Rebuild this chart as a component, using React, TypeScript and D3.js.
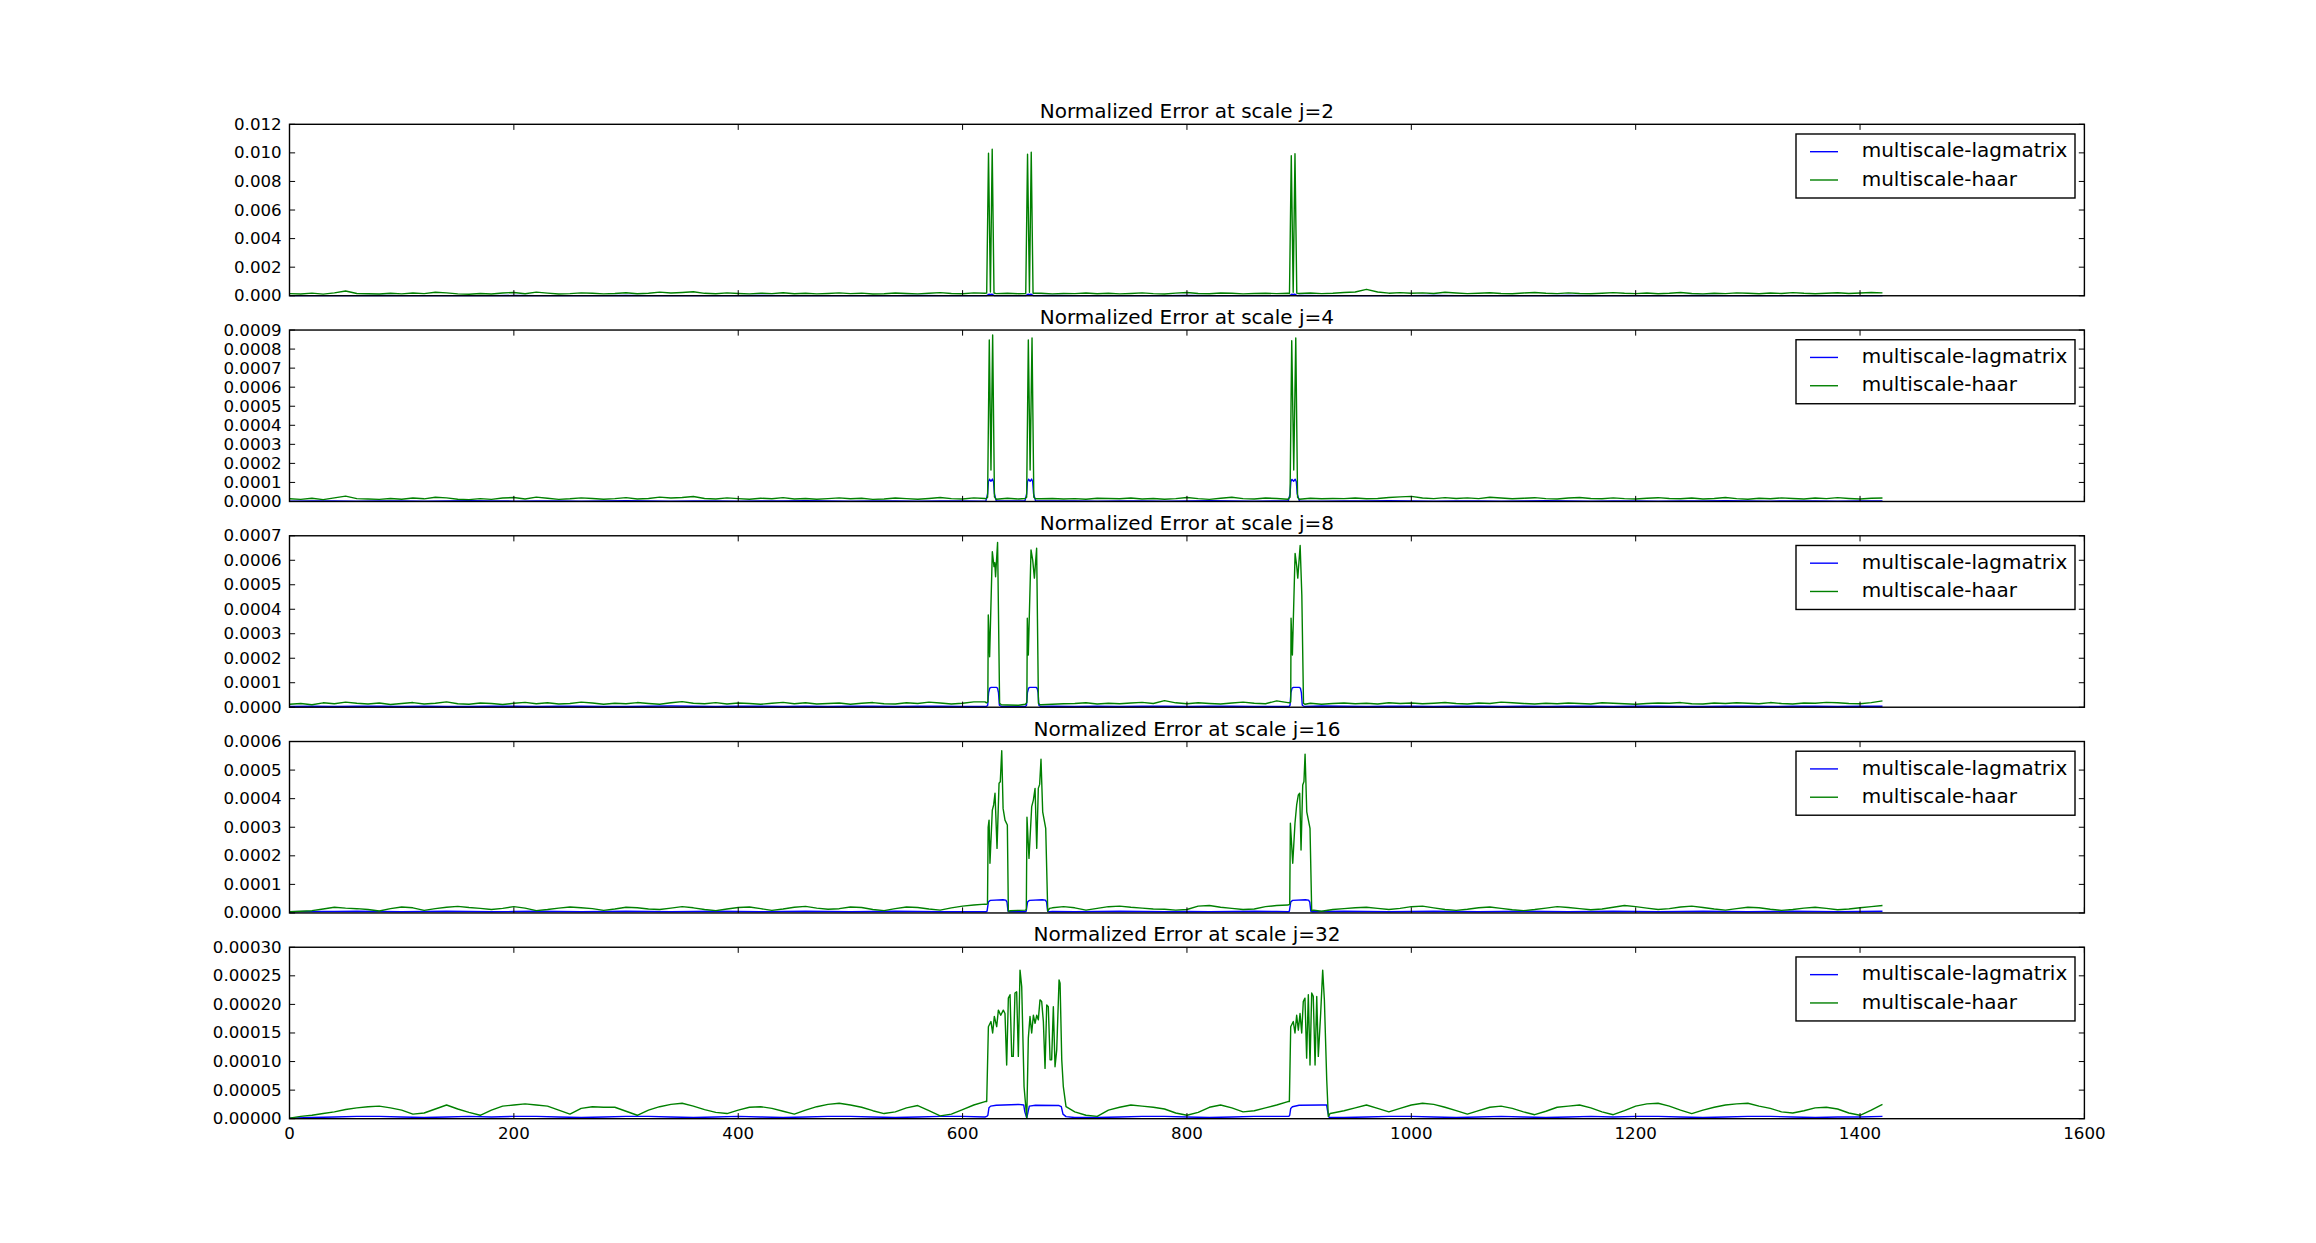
import { useEffect, useRef } from 'react';
import * as d3 from 'd3';

// figure geometry (matplotlib-like subplot layout, 5 rows sharing x)
const W = 2316;
const H = 1243;

// values are stored in units of 1e-6
const UNIT = 1e-6;
const HAAR_STEP = 10; // base samples of haar error every 10 samples
const LAG_STEP = 20; // base samples of lagmatrix error every 20 samples

const xTicks = [0, 200, 400, 600, 800, 1000, 1200, 1400, 1600];
const scaleLabels = ['j=2', 'j=4', 'j=8', 'j=16', 'j=32'];
const yMaxes = [0.012, 0.0009, 0.0007, 0.0006, 0.0003];
const yTickSteps = [0.002, 0.0001, 0.0001, 0.0001, 0.00005];
const yTickDigits = [3, 4, 4, 4, 5];
const seriesNames = ['multiscale-lagmatrix', 'multiscale-haar'];
const seriesColors = ['#0000ff', '#008000'];

// ---- multiscale-haar, baseline (x = 0, 10, ..., 1420)
const haarJ2 = [
  150, 120, 180, 110, 200, 330, 160, 140, 120, 170,
  130, 190, 150, 240, 200, 130, 110, 160, 120, 190,
  230, 140, 250, 180, 120, 150, 200, 170, 130, 160,
  210, 140, 170, 250, 190, 230, 280, 170, 140, 200,
  160, 130, 180, 150, 210, 140, 170, 130, 160, 200,
  150, 180, 120, 140, 190, 160, 130, 170, 220, 160,
  140, 200, 170, 150, 180, 140, 170, 170, 130, 160,
  150, 190, 140, 170, 130, 160, 200, 150, 120, 180,
  230, 160, 140, 190, 170, 130, 160, 180, 150, 170,
  160, 190, 150, 170, 230, 260, 450, 260, 180, 220,
  170, 200, 160, 240, 190, 150, 180, 210, 160, 140,
  190, 230, 170, 150, 200, 160, 140, 180, 220, 170,
  150, 190, 140, 170, 230, 160, 130, 180, 150, 200,
  170, 140, 190, 160, 220, 170, 140, 180, 210, 160,
  190, 230, 200,
];
const haarJ4 = [
  14, 11, 17, 10, 19, 28, 15, 13, 11, 16,
  12, 18, 14, 22, 19, 12, 10, 15, 11, 18,
  21, 13, 23, 17, 11, 14, 19, 16, 12, 15,
  20, 13, 16, 23, 18, 21, 26, 16, 13, 19,
  15, 12, 17, 14, 20, 13, 16, 12, 15, 19,
  14, 17, 11, 13, 18, 15, 12, 16, 21, 15,
  13, 19, 16, 14, 17, 13, 15, 14, 16, 13,
  15, 12, 17, 16, 14, 18, 13, 16, 12, 15,
  21, 15, 11, 17, 22, 15, 13, 18, 16, 12,
  15, 17, 14, 16, 15, 18, 14, 16, 21, 24,
  27, 18, 15, 20, 16, 19, 15, 22, 18, 14,
  17, 20, 15, 13, 18, 21, 16, 14, 19, 15,
  13, 17, 20, 16, 14, 18, 13, 16, 21, 15,
  12, 17, 14, 19, 16, 13, 18, 15, 20, 16,
  13, 17, 18,
];
const haarJ8 = [
  12, 15, 10, 18, 14, 21, 16, 13, 17, 11,
  15, 19, 13, 16, 22, 14, 12, 17, 15, 11,
  16, 20, 14, 18, 13, 15, 21, 17, 12, 16,
  14, 19, 15, 12, 18, 23, 16, 14, 19, 13,
  17, 15, 12, 16, 20, 14, 18, 13, 15, 17,
  12, 16, 19, 14, 13, 18, 15, 21, 17, 13,
  16, 22, 22, 10, 9, 8, 11, 10, 12, 14,
  15, 18, 13, 16, 14, 17, 20, 15, 27, 18,
  14, 18, 15, 13, 17, 21, 16, 14, 26, 19,
  13, 16, 12, 15, 17, 14, 16, 13, 18, 15,
  17, 14, 16, 19, 15, 13, 17, 15, 21, 18,
  15, 13, 16, 14, 17, 15, 13, 18, 16, 14,
  12, 15, 17, 16, 19, 14, 13, 17, 15, 18,
  16, 14, 19, 15, 13, 17, 16, 20, 18, 15,
  14, 19, 26,
];
const haarJ16 = [
  4, 6, 8, 14, 20, 17, 15, 12, 7, 15,
  21, 18, 9, 15, 20, 23, 19, 16, 12, 16,
  22, 17, 8, 12, 17, 21, 18, 15, 9, 14,
  20, 18, 14, 12, 17, 22, 18, 12, 8, 14,
  19, 21, 15, 9, 14, 20, 23, 17, 13, 15,
  21, 19, 12, 8, 15, 21, 19, 14, 10, 18,
  24, 28, 31, 20, 8, 9, 18, 16, 18, 22,
  18, 10, 16, 22, 24, 20, 17, 14, 13, 10,
  12, 24, 26, 20, 16, 12, 14, 22, 26, 28,
  20, 10, 6, 12, 15, 18, 20, 16, 12, 16,
  22, 24, 18, 12, 9, 13, 18, 21, 16, 11,
  8, 12, 17, 22, 19, 15, 11, 14, 20, 26,
  22, 17, 12, 15, 21, 24, 19, 14, 10, 15,
  20, 18, 13, 9, 12, 17, 20, 16, 11, 14,
  18, 22, 26,
];
const haarJ32 = [
  1, 4, 6, 9, 12, 16, 19, 21, 22, 19,
  15, 8, 10, 17, 24, 17, 11, 6, 15, 22,
  24, 26, 24, 22, 15, 8, 18, 21, 20, 20,
  13, 6, 15, 21, 25, 27, 22, 16, 11, 9,
  15, 20, 21, 18, 13, 8, 15, 21, 25, 27,
  24, 20, 14, 9, 12, 19, 23, 14, 5, 8,
  16, 24, 30, 20, 20, 20, 20, 20, 20, 20,
  12, 6, 4, 15, 20, 24, 22, 20, 17, 10,
  6, 11, 20, 24, 19, 12, 14, 19, 24, 30,
  20, 20, 20, 10, 14, 19, 24, 18, 12, 18,
  24, 27, 25, 20, 14, 8, 14, 20, 22, 18,
  12, 7, 13, 20, 22, 24, 19, 12, 7, 14,
  22, 26, 27, 22, 15, 9, 15, 20, 24, 26,
  27, 22, 18, 12, 10, 14, 19, 20, 17, 10,
  6, 15, 25,
];

// ---- multiscale-haar, error bursts [x, value]
const haarPeaksJ2 = [
  [[621.5, 180], [623.1, 9970], [624.8, 260], [626.4, 10250], [628, 190]],
  [[656.3, 150], [657.9, 9900], [659.6, 240], [661.2, 10040], [662.8, 170]],
  [[891.4, 160], [893, 9800], [894.7, 250], [896.3, 9940], [897.9, 180]],
];
const haarPeaksJ4 = [
  [[620.8, 14], [622.3, 22], [623.8, 848], [625.3, 165], [626.8, 874], [628.4, 24], [630, 12]],
  [[655.6, 16], [657.1, 22], [658.6, 848], [660.2, 165], [661.9, 858], [663.5, 22], [665, 14]],
  [[890.4, 15], [891.9, 22], [893.4, 844], [895.2, 165], [897, 858], [898.6, 22], [900.2, 12]],
];
const haarPeaksJ8 = [
  [[621.3, 18], [622.5, 22], [622.9, 377], [624.1, 206], [626.5, 635], [628, 574], [628.7, 590],
    [629.4, 533], [631.2, 673], [633, 16], [634.5, 10]],
  [[656, 12], [657.3, 20], [657.7, 363], [658.6, 213], [661, 642], [662.5, 601], [664, 527],
    [666, 649], [667.6, 16], [669, 10]],
  [[891.3, 18], [892.5, 22], [892.8, 363], [894, 213], [896.4, 628], [897.9, 574], [898.8, 527],
    [900.9, 660], [902.4, 458], [903.9, 16], [905.3, 12]],
];
const haarPeaksJ16 = [
  [[621, 30], [622.2, 32], [622.8, 300], [623.6, 325], [624.4, 174], [626.5, 360], [627.7, 378],
    [628.9, 419], [630.7, 226], [632.5, 454], [633.6, 459], [634.9, 568], [636.1, 366],
    [637.8, 325], [639.9, 308], [640.8, 6], [642.5, 8]],
  [[656, 10], [656.8, 12], [657.4, 335], [659.2, 191], [661.6, 372], [663.1, 395], [664.6, 436],
    [666.1, 226], [667.5, 436], [668.7, 450], [669.9, 538], [671.4, 354], [674.1, 296],
    [675.9, 6], [677.5, 16]],
  [[890.3, 28], [891.6, 30], [892.2, 314], [894.3, 174], [896.3, 314], [897.8, 378], [899.3, 413],
    [900.5, 419], [901.7, 220], [903.2, 448], [904.3, 460], [905.3, 556], [906.8, 354],
    [909.7, 296], [911.2, 8], [913, 10]],
];
const haarPeaksJ32 = [
  [[621.5, 30], [623, 161], [625.3, 170], [626.8, 150], [628.3, 179], [630.4, 161], [631.9, 190],
    [634, 181], [636.3, 190], [637.8, 184], [639.3, 94], [640.8, 211], [642.3, 217], [643.8, 109],
    [645.2, 109], [646.7, 220], [648.2, 222], [649.7, 109], [651.2, 260], [652.7, 231],
    [654.8, 56], [657.2, 1], [658.6, 141], [660.1, 179], [661.6, 150], [663.1, 181], [664.6, 167],
    [666.1, 181], [667.5, 173], [669, 208], [670.5, 205], [672, 170], [673.5, 88], [675, 199],
    [676.4, 196], [678, 103], [679.4, 103], [680.9, 196], [682.4, 91], [683.9, 120], [686, 243],
    [686.9, 237], [688.4, 103], [689.8, 56], [692.2, 21]],
  [[891.3, 30], [892.5, 161], [894.8, 170], [896.3, 150], [897.8, 181], [899.3, 155], [900.8, 184],
    [902.3, 150], [903.7, 205], [905.2, 211], [906.7, 106], [908.2, 217], [909.7, 94], [911.2, 220],
    [912.6, 214], [914.2, 94], [915.7, 214], [917.1, 109], [919.2, 184], [921, 260], [922.5, 208],
    [924.6, 68], [926, 4], [927.5, 9]],
];

// ---- multiscale-lagmatrix, baseline (x = 0, 20, ..., 1420)
const lagJ2 = [
  10, 12, 9, 11, 13, 10, 8, 12, 11, 9,
  13, 10, 12, 9, 11, 14, 10, 8, 12, 11,
  9, 13, 10, 12, 11, 9, 12, 10, 13, 11,
  9, 12, 10, 11, 13, 10, 9, 12, 11, 10,
  13, 9, 11, 12, 10, 14, 11, 9, 12, 10,
  11, 13, 10, 9, 12, 11, 10, 13, 9, 11,
  12, 10, 11, 13, 9, 12, 10, 11, 12, 10,
  11, 12,
];
const lagJ4 = [
  2, 3, 3, 2, 3, 3, 2, 3, 4, 3,
  2, 3, 3, 2, 3, 4, 3, 2, 3, 3,
  2, 3, 3, 4, 3, 2, 3, 3, 2, 3,
  3, 2, 3, 4, 3, 3, 2, 3, 3, 2,
  3, 4, 3, 2, 3, 3, 2, 3, 3, 4,
  3, 2, 3, 3, 2, 3, 4, 3, 2, 3,
  3, 2, 3, 3, 4, 3, 2, 3, 3, 2,
  3, 3,
];
const lagJ8 = [
  3, 4, 3, 4, 4, 3, 4, 3, 3, 4,
  4, 3, 4, 4, 3, 3, 4, 5, 4, 3,
  4, 4, 3, 4, 3, 4, 4, 3, 4, 4,
  3, 3, 3, 4, 4, 3, 4, 3, 4, 4,
  3, 4, 4, 3, 3, 4, 5, 4, 3, 4,
  4, 3, 4, 4, 3, 4, 3, 4, 4, 3,
  4, 4, 3, 3, 4, 4, 3, 4, 4, 3,
  4, 4,
];
const lagJ16 = [
  4, 5, 5, 6, 5, 4, 5, 6, 5, 4,
  5, 6, 5, 4, 5, 6, 5, 4, 5, 6,
  5, 4, 5, 6, 5, 4, 5, 6, 5, 4,
  4, 4, 4, 5, 5, 4, 5, 6, 5, 4,
  5, 4, 5, 6, 5, 4, 5, 6, 5, 4,
  5, 6, 5, 4, 5, 6, 5, 4, 5, 6,
  5, 4, 5, 6, 5, 4, 5, 6, 5, 4,
  5, 6,
];
const lagJ32 = [
  1, 2, 3, 4, 4, 3, 2, 3, 4, 3,
  4, 4, 3, 2, 3, 4, 4, 3, 2, 3,
  4, 3, 2, 3, 4, 4, 3, 2, 3, 4,
  4, 3, 3, 3, 3, 2, 2, 3, 4, 4,
  3, 2, 3, 4, 4, 3, 2, 2, 3, 4,
  4, 3, 2, 3, 4, 3, 2, 3, 4, 3,
  4, 4, 3, 2, 3, 4, 4, 3, 2, 3,
  3, 4,
];

// ---- multiscale-lagmatrix, plateaus at the bursts [x, value]
const lagPeaksJ2 = [
  [[621.5, 10], [622.6, 60], [623.4, 105], [624.8, 95], [626.2, 108], [627.2, 60], [628.4, 10]],
  [[656.3, 10], [657.4, 60], [658.2, 105], [659.6, 95], [661, 108], [662, 60], [663.2, 10]],
  [[891.4, 10], [892.5, 60], [893.3, 105], [894.7, 95], [896.1, 108], [897.1, 60], [898.3, 10]],
];
const lagPeaksJ4 = [
  [[620.8, 3], [622.3, 40], [623, 104], [624, 117], [625.3, 106], [626.6, 118], [627.6, 104], [628.4, 40], [630, 3]],
  [[655.6, 3], [657.1, 40], [657.8, 104], [658.8, 117], [660.2, 106], [661.5, 118], [662.5, 104], [663.3, 40], [665, 3]],
  [[890.4, 3], [891.9, 40], [892.6, 104], [893.6, 116], [895.1, 106], [896.5, 117], [897.5, 104], [898.3, 40], [900.2, 3]],
];
const lagPeaksJ8 = [
  [[621.3, 3], [622.4, 8], [623.2, 60], [624.2, 78], [625.5, 81], [630.3, 81], [631.2, 77], [632, 60], [632.8, 8], [634.5, 3]],
  [[656, 3], [657, 8], [657.8, 60], [658.8, 78], [660, 81], [665.5, 81], [666.5, 77], [667.3, 60], [668, 8], [669.5, 3]],
  [[891, 3], [891.9, 8], [892.7, 60], [893.7, 78], [895, 81], [900.3, 81], [901.2, 77], [902, 60], [902.8, 8], [904.5, 3]],
];
const lagPeaksJ16 = [
  [[620.5, 4], [621.8, 6], [623, 38], [624.5, 44], [636, 46], [638.5, 45], [639.6, 38], [640.5, 6], [642, 4]],
  [[655.3, 4], [656.7, 6], [657.9, 38], [659.4, 44], [671, 46], [673.8, 45], [674.9, 38], [675.8, 6], [677.3, 4]],
  [[889.9, 4], [891.3, 6], [892.5, 38], [894, 44], [905.6, 46], [908.4, 45], [909.5, 38], [910.4, 6], [912, 4]],
];
const lagPeaksJ32 = [
  [[621.5, 4], [622.5, 6], [623.5, 19], [625, 22], [630, 23.5], [650, 25], [654.5, 24], [655.5, 12],
    [657.2, 1], [658.6, 14], [659.5, 22], [665, 23.5], [686, 23], [688, 21], [689.5, 8], [692.2, 3.6]],
  [[890.8, 4], [891.6, 6], [892.5, 18], [894, 21], [900, 23.5], [920, 24], [924.5, 24], [925.5, 12],
    [926.8, 2], [928, 2]],
];

type Pt = [number, number];

function buildSeries(base: number[], step: number, groups: number[][][]): Pt[] {
  const pts: Pt[] = base
    .map((v, i) => [i * step, v] as Pt)
    .filter(([x]) => !groups.some((g) => x >= g[0][0] && x <= g[g.length - 1][0]));
  groups.forEach((g) => g.forEach((p) => pts.push([p[0], p[1]])));
  return pts.sort((a, b) => a[0] - b[0]);
}

const lagSeries = [
  buildSeries(lagJ2, LAG_STEP, lagPeaksJ2),
  buildSeries(lagJ4, LAG_STEP, lagPeaksJ4),
  buildSeries(lagJ8, LAG_STEP, lagPeaksJ8),
  buildSeries(lagJ16, LAG_STEP, lagPeaksJ16),
  buildSeries(lagJ32, LAG_STEP, lagPeaksJ32),
];
const haarSeries = [
  buildSeries(haarJ2, HAAR_STEP, haarPeaksJ2),
  buildSeries(haarJ4, HAAR_STEP, haarPeaksJ4),
  buildSeries(haarJ8, HAAR_STEP, haarPeaksJ8),
  buildSeries(haarJ16, HAAR_STEP, haarPeaksJ16),
  buildSeries(haarJ32, HAAR_STEP, haarPeaksJ32),
];

export default function App() {
  const svgRef = useRef<SVGSVGElement>(null);

  useEffect(() => {
    if (!svgRef.current) return;
    document.body.style.margin = '0';

    const svg = d3.select(svgRef.current);
    svg.selectAll('*').remove();

    // subplot box: left .125, right .9, top .9, bottom .1, hspace .2
    const left = 0.125 * W;
    const right = 0.9 * W;
    const figTop = 0.1 * H;
    const figBottom = 0.9 * H;
    const n = scaleLabels.length;
    const panelH = (figBottom - figTop) / (n + 0.2 * (n - 1));
    const gap = panelH * 0.2;
    const font = 'DejaVu Sans';
    const tickLen = 5.6;

    const x = d3.scaleLinear().domain([0, 1600]).range([left, right]);

    scaleLabels.forEach((label, i) => {
      const top = figTop + i * (panelH + gap);
      const bottom = top + panelH;
      const y = d3.scaleLinear().domain([0, yMaxes[i]]).range([bottom, top]);
      const g = svg.append('g');

      const line = d3
        .line<Pt>()
        .x((d) => x(d[0]))
        .y((d) => y(d[1] * UNIT));

      // lagmatrix first, haar drawn on top
      [lagSeries[i], haarSeries[i]].forEach((data, k) => {
        g.append('path')
          .attr('d', line(data))
          .attr('fill', 'none')
          .attr('stroke', seriesColors[k])
          .attr('stroke-width', 1.4)
          .attr('stroke-linejoin', 'round');
      });

      // ticks (inward, all four sides)
      xTicks.forEach((t) => {
        const px = x(t);
        g.append('line').attr('x1', px).attr('x2', px).attr('y1', bottom).attr('y2', bottom - tickLen)
          .attr('stroke', 'black').attr('stroke-width', 1);
        g.append('line').attr('x1', px).attr('x2', px).attr('y1', top).attr('y2', top + tickLen)
          .attr('stroke', 'black').attr('stroke-width', 1);
      });
      const yTicks = d3.range(0, yMaxes[i] + yTickSteps[i] / 2, yTickSteps[i]);
      const fmt = d3.format(`.${yTickDigits[i]}f`);
      yTicks.forEach((t) => {
        const py = y(t);
        g.append('line').attr('x1', left).attr('x2', left + tickLen).attr('y1', py).attr('y2', py)
          .attr('stroke', 'black').attr('stroke-width', 1);
        g.append('line').attr('x1', right).attr('x2', right - tickLen).attr('y1', py).attr('y2', py)
          .attr('stroke', 'black').attr('stroke-width', 1);
        g.append('text')
          .attr('x', left - 7.8)
          .attr('y', py + 5.5)
          .attr('text-anchor', 'end')
          .attr('font-family', font)
          .attr('font-size', 16.67)
          .text(fmt(t));
      });

      // frame
      g.append('rect')
        .attr('x', left).attr('y', top)
        .attr('width', right - left).attr('height', panelH)
        .attr('fill', 'none').attr('stroke', 'black').attr('stroke-width', 1.4);

      // title
      g.append('text')
        .attr('x', (left + right) / 2)
        .attr('y', top - 6)
        .attr('text-anchor', 'middle')
        .attr('font-family', font)
        .attr('font-size', 20)
        .text(`Normalized Error at scale ${label}`);

      // legend
      const lx = right - 288.4;
      const ly = top + 9.7;
      g.append('rect')
        .attr('x', lx).attr('y', ly).attr('width', 279).attr('height', 64)
        .attr('fill', 'white').attr('stroke', 'black').attr('stroke-width', 1.4);
      seriesNames.forEach((name, k) => {
        const rowY = ly + 17.7 + k * 28.3;
        g.append('line')
          .attr('x1', lx + 14).attr('x2', lx + 42).attr('y1', rowY).attr('y2', rowY)
          .attr('stroke', seriesColors[k]).attr('stroke-width', 1.4);
        g.append('text')
          .attr('x', lx + 65.7)
          .attr('y', rowY + 5.6)
          .attr('font-family', font)
          .attr('font-size', 20)
          .text(name);
      });

      // x tick labels only under the last panel
      if (i === n - 1) {
        xTicks.forEach((t) => {
          g.append('text')
            .attr('x', x(t))
            .attr('y', bottom + 20.5)
            .attr('text-anchor', 'middle')
            .attr('font-family', font)
            .attr('font-size', 16.67)
            .text(String(t));
        });
      }
    });
  }, []);

  return (
    <svg
      ref={svgRef}
      width={W}
      height={H}
      viewBox={`0 0 ${W} ${H}`}
      style={{ position: 'absolute', left: 0, top: 0, background: 'white' }}
    />
  );
}
